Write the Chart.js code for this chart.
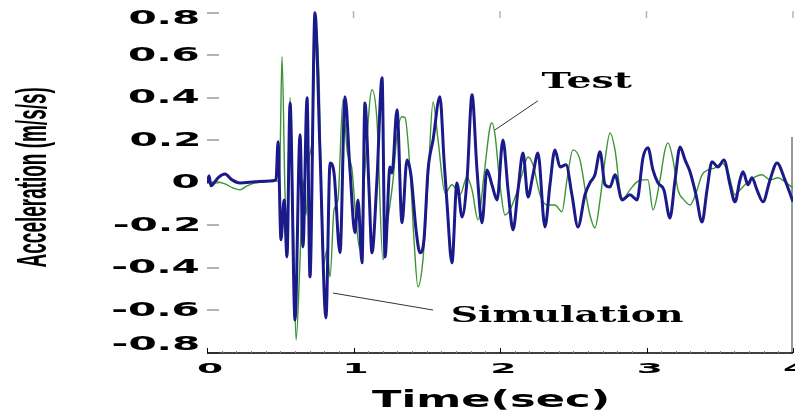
<!DOCTYPE html>
<html>
<head>
<meta charset="utf-8">
<script src="https://cdn.jsdelivr.net/npm/chart.js@4.4.0/dist/chart.umd.min.js"></script>
<style>
  html, body { margin: 0; padding: 0; background: #fff; }
  canvas { display: block; }
</style>
</head>
<body>
<canvas id="chartAccel" width="795" height="414"></canvas>
<script>
// Simulation (blue) time history
const simTime = [0.000,0.014,0.027,0.075,0.123,0.171,0.225,0.328,0.430,0.471,0.485,0.505,0.526,0.546,0.567,0.601,0.635,0.655,0.683,0.703,0.737,0.771,0.812,0.840,0.867,0.908,0.942,0.976,1.010,1.031,1.058,1.078,1.106,1.126,1.160,1.195,1.215,1.249,1.263,1.297,1.331,1.365,1.392,1.427,1.454,1.481,1.509,1.543,1.590,1.618,1.638,1.672,1.706,1.741,1.775,1.809,1.843,1.877,1.911,1.945,1.980,2.020,2.055,2.089,2.123,2.157,2.191,2.225,2.259,2.307,2.341,2.375,2.410,2.451,2.491,2.532,2.580,2.614,2.648,2.683,2.717,2.751,2.785,2.833,2.887,2.935,2.976,3.010,3.044,3.078,3.119,3.160,3.195,3.229,3.263,3.297,3.338,3.379,3.413,3.447,3.488,3.529,3.570,3.604,3.638,3.659,3.693,3.720,3.754,3.795,3.843,3.891,3.945,4.000];
const simAccel = [0.000,0.033,-0.014,0.024,0.042,0.014,0.000,0.005,0.009,0.014,0.193,-0.268,-0.080,-0.348,0.376,-0.645,0.226,-0.301,0.400,-0.442,0.800,0.155,-0.635,0.094,0.047,-0.329,0.405,0.061,-0.235,-0.080,-0.376,0.376,-0.033,-0.329,0.014,0.494,-0.348,0.075,0.047,0.344,-0.188,0.108,0.038,-0.221,-0.329,-0.268,0.061,0.202,0.405,0.108,-0.094,-0.376,0.000,-0.160,0.014,0.414,0.061,-0.188,0.061,-0.009,-0.080,0.202,-0.033,-0.221,-0.033,0.141,-0.066,0.038,0.141,-0.207,-0.009,0.155,0.075,0.085,-0.056,-0.207,-0.056,0.000,0.038,0.146,-0.009,-0.019,0.038,-0.080,-0.056,-0.080,0.118,0.165,0.061,0.000,-0.033,-0.165,0.014,0.169,0.108,0.052,-0.056,-0.184,-0.033,0.099,0.075,0.108,-0.009,-0.089,0.014,0.052,-0.009,0.024,-0.033,-0.089,0.014,0.094,0.014,-0.089];

// Test (green) time history
const testTime = [0.000,0.055,0.123,0.177,0.225,0.273,0.328,0.396,0.464,0.485,0.498,0.512,0.532,0.546,0.567,0.587,0.608,0.635,0.655,0.676,0.696,0.717,0.744,0.765,0.792,0.819,0.840,0.867,0.894,0.928,0.956,0.990,1.017,1.044,1.078,1.126,1.160,1.201,1.235,1.270,1.297,1.331,1.352,1.386,1.413,1.440,1.474,1.509,1.543,1.577,1.625,1.672,1.727,1.775,1.809,1.850,1.891,1.932,1.945,1.966,2.000,2.034,2.068,2.109,2.150,2.191,2.225,2.273,2.321,2.375,2.423,2.457,2.498,2.546,2.587,2.614,2.648,2.683,2.717,2.751,2.785,2.833,2.887,2.935,2.976,3.010,3.044,3.092,3.126,3.147,3.181,3.215,3.256,3.297,3.345,3.379,3.420,3.468,3.515,3.556,3.604,3.638,3.693,3.741,3.788,3.843,3.898,3.945,4.000];
const testAccel = [0.000,0.005,-0.005,-0.024,-0.033,-0.014,0.000,0.005,0.014,0.005,0.108,0.593,-0.033,-0.221,0.400,-0.127,-0.739,-0.362,0.014,-0.151,0.108,0.202,0.720,0.485,-0.395,-0.315,-0.442,-0.127,-0.080,0.391,0.155,0.061,-0.174,-0.315,0.061,0.438,0.296,-0.362,-0.174,0.014,0.226,0.311,0.306,0.061,-0.268,-0.489,-0.362,0.014,0.381,0.202,-0.047,-0.009,-0.056,0.028,-0.033,-0.174,0.038,0.264,0.282,0.226,-0.009,-0.151,-0.127,-0.056,0.038,0.122,0.085,-0.056,-0.104,-0.104,-0.136,0.014,0.155,0.108,-0.056,-0.151,-0.212,-0.080,0.108,0.235,0.155,-0.080,-0.033,0.005,0.014,0.014,-0.127,0.014,0.155,0.188,0.108,-0.033,-0.080,-0.104,-0.033,0.038,0.061,0.071,0.094,0.052,-0.056,-0.033,0.005,0.028,0.038,0.014,0.024,0.005,-0.024];

const xTicks = [0, 1, 2, 3, 4];
const yTicks = [0.8, 0.6, 0.4, 0.2, 0, -0.2, -0.4, -0.6, -0.8];
const yTickLabels = ["0.8", "0.6", "0.4", "0.2", "0", "-0.2", "-0.4", "-0.6", "-0.8"];

// annotation anchors in data units: [label, leader from (t,a), leader to (t,a)]
const annoTest = { text: "Test", from: [1.966, 0.249], to: [2.259, 0.386] };
const annoSim = { text: "Simulation", from: [0.860, -0.518], to: [1.543, -0.598] };

function pts(xs, ys){ return xs.map((x, i) => ({ x: x, y: ys[i] })); }

// draw text so its ink box fits w x h at (x,y)
function fitText(ctx, text, font, x, y, w, h){
  ctx.save();
  ctx.font = font;
  const m = ctx.measureText(text);
  const tw = m.actualBoundingBoxLeft + m.actualBoundingBoxRight;
  const th = m.actualBoundingBoxAscent + m.actualBoundingBoxDescent;
  ctx.translate(x, y);
  ctx.scale(w / tw, h / th);
  ctx.textAlign = "left";
  ctx.textBaseline = "alphabetic";
  ctx.fillText(text, m.actualBoundingBoxLeft, m.actualBoundingBoxAscent);
  ctx.restore();
}

const axesPlugin = {
  id: "axesPlugin",
  beforeDatasetsDraw(chart){
    const ctx = chart.ctx, xs = chart.scales.x, ys = chart.scales.y;
    const a = chart.chartArea;
    ctx.save();
    // left ticks (gray dashes)
    ctx.strokeStyle = "#b4b4b4";
    ctx.lineWidth = 2;
    yTicks.forEach(v => {
      const py = Math.round(ys.getPixelForValue(v));
      ctx.beginPath(); ctx.moveTo(a.left, py); ctx.lineTo(a.left + 12, py); ctx.stroke();
    });
    // top tick marks
    ctx.lineWidth = 1.5;
    xTicks.slice(1).forEach(t => {
      const px = xs.getPixelForValue(t);
      ctx.beginPath(); ctx.moveTo(px, 11); ctx.lineTo(px, 18); ctx.stroke();
    });
    // partial right frame
    ctx.strokeStyle = "#777";
    ctx.lineWidth = 1.5;
    ctx.beginPath(); ctx.moveTo(a.right - 1, 137); ctx.lineTo(a.right - 1, a.bottom); ctx.stroke();
    // bottom axis
    ctx.strokeStyle = "#000";
    ctx.lineWidth = 1.5;
    ctx.beginPath(); ctx.moveTo(a.left, a.bottom); ctx.lineTo(a.right, a.bottom); ctx.stroke();
    ctx.lineWidth = 1;
    for(let t = 0; t <= 4.0001; t += 0.1){
      const px = Math.round(xs.getPixelForValue(t)) + 0.5;
      const major = Math.abs(t - Math.round(t)) < 1e-6;
      ctx.strokeStyle = major ? "#000" : "#888";
      ctx.beginPath(); ctx.moveTo(px, a.bottom); ctx.lineTo(px, a.bottom - (major ? 5 : 2)); ctx.stroke();
    }
    ctx.restore();
  },
  afterDraw(chart){
    const ctx = chart.ctx, xs = chart.scales.x, ys = chart.scales.y;
    ctx.save();
    ctx.fillStyle = "#000";

    // y tick labels
    const yFont = "bold 100px 'DejaVu Sans'";
    ctx.font = yFont;
    const ref = ctx.measureText("0.8");
    const ysx = 68 / (ref.actualBoundingBoxLeft + ref.actualBoundingBoxRight);
    const ysy = 15 / (ref.actualBoundingBoxAscent + ref.actualBoundingBoxDescent);
    yTicks.forEach((v, i) => {
      const lab = yTickLabels[i];
      const m = ctx.measureText(lab);
      const w = (m.actualBoundingBoxLeft + m.actualBoundingBoxRight) * ysx;
      let cy = ys.getPixelForValue(v) - 2;
      cy = Math.max(17, Math.min(343, cy));
      ctx.save();
      ctx.translate(198 - w, cy - 7.5);
      ctx.scale(ysx, ysy);
      ctx.fillText(lab, m.actualBoundingBoxLeft, ref.actualBoundingBoxAscent);
      ctx.restore();
    });

    // x tick labels
    const r0 = ctx.measureText("0");
    const xsx = 23 / (r0.actualBoundingBoxLeft + r0.actualBoundingBoxRight);
    const xsy = 11 / (r0.actualBoundingBoxAscent + r0.actualBoundingBoxDescent);
    xTicks.forEach(t => {
      const lab = String(t);
      const m = ctx.measureText(lab);
      const w = (m.actualBoundingBoxLeft + m.actualBoundingBoxRight) * xsx;
      let cx = xs.getPixelForValue(t) + 3;
      ctx.save();
      ctx.translate(cx - w / 2, 368 - 5.5);
      ctx.scale(xsx, xsy);
      ctx.fillText(lab, m.actualBoundingBoxLeft, r0.actualBoundingBoxAscent);
      ctx.restore();
    });

    // axis titles
    fitText(ctx, "Time(sec)", "bold 100px 'DejaVu Sans'", 372, 389, 235, 21);
    ctx.save();
    ctx.translate(15, 267);
    ctx.rotate(-Math.PI / 2);
    fitText(ctx, "Acceleration (m/s/s)", "bold 100px 'Liberation Sans Narrow', 'Liberation Sans'", 0, 0, 179, 40);
    ctx.restore();

    // annotations
    ctx.strokeStyle = "#333";
    ctx.lineWidth = 1;
    [annoTest, annoSim].forEach(an => {
      ctx.beginPath();
      ctx.moveTo(xs.getPixelForValue(an.from[0]), ys.getPixelForValue(an.from[1]));
      ctx.lineTo(xs.getPixelForValue(an.to[0]), ys.getPixelForValue(an.to[1]));
      ctx.stroke();
    });
    fitText(ctx, annoTest.text, "bold 100px 'DejaVu Serif'", 542, 72, 90, 16);
    fitText(ctx, annoSim.text, "bold 100px 'DejaVu Serif'", 453, 305, 230, 17);
    ctx.restore();
  }
};

new Chart(document.getElementById("chartAccel"), {
  type: "line",
  data: {
    datasets: [
      {
        label: "Simulation",
        data: pts(simTime, simAccel),
        borderColor: "#1a1a8a",
        borderWidth: 3,
        pointRadius: 0,
        cubicInterpolationMode: "monotone",
        order: 0
      },
      {
        label: "Test",
        data: pts(testTime, testAccel),
        borderColor: "#3c9434",
        borderWidth: 1.4,
        pointRadius: 0,
        cubicInterpolationMode: "monotone",
        order: 1
      }
    ]
  },
  options: {
    responsive: false,
    animation: false,
    layout: { padding: { left: 207, right: 2, top: 0, bottom: 61 } },
    plugins: { legend: { display: false }, tooltip: { enabled: false } },
    scales: {
      x: { type: "linear", min: 0, max: 4, display: false },
      y: { type: "linear", min: -0.8, max: 0.86, display: false }
    }
  },
  plugins: [axesPlugin]
});
</script>
</body>
</html>
